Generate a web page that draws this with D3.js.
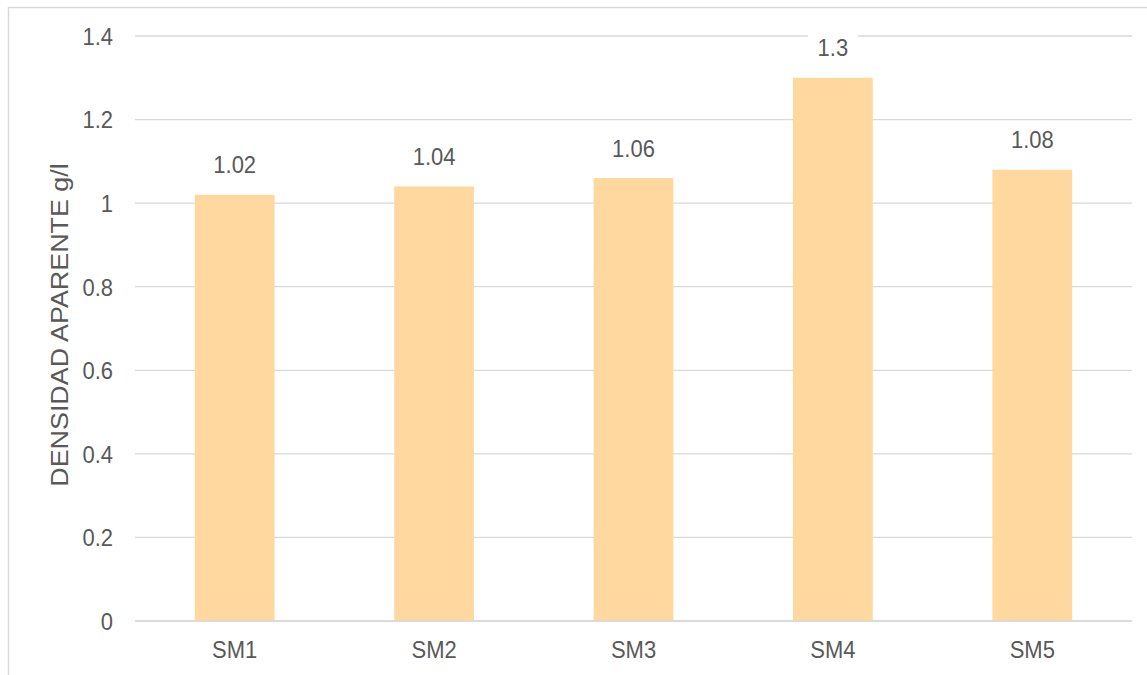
<!DOCTYPE html>
<html><head><meta charset="utf-8">
<script src="https://cdn.jsdelivr.net/npm/d3@7"></script>
<style>body{margin:0;background:#fff;}svg{display:block;font-family:"Liberation Sans",Arial,sans-serif;}</style>
</head><body>
<svg id="c" width="1147" height="675"></svg>
<script>
const categories = ["SM1","SM2","SM3","SM4","SM5"];
const values = [1.02,1.04,1.06,1.3,1.08];
const yTicks = [0,0.2,0.4,0.6,0.8,1,1.2,1.4];
const yTitle = "DENSIDAD APARENTE g/l";

const FS = 22, SY = 1.12, COL = "#595959";
const svg = d3.select("#c");
svg.append("rect").attr("x",8.5).attr("y",7.5).attr("width",1160).attr("height",700)
  .attr("fill","#fff").attr("stroke","#d9d9d9").attr("stroke-width",1.5);

const x = d3.scaleBand().domain(categories).range([135,1132]).paddingInner(0.6).paddingOuter(0.3);
const y = d3.scaleLinear().domain([0,1.4]).range([621,36]);

const g = svg.append("g");
g.selectAll("line.grid").data(yTicks).join("line")
  .attr("x1",135).attr("x2",1132).attr("y1",d=>y(d)).attr("y2",d=>y(d))
  .attr("stroke","#d9d9d9").attr("stroke-width",1.3);

g.selectAll("text.yt").data(yTicks).join("text")
  .attr("transform",d=>`translate(113,${y(d)}) scale(1,${SY})`)
  .attr("dy","0.36em").attr("text-anchor","end")
  .attr("font-size",FS).attr("fill",COL).text(d=>d3.format("")(d));

g.selectAll("rect.bar").data(values).join("rect")
  .attr("x",(d,i)=>x(categories[i])).attr("width",x.bandwidth())
  .attr("y",d=>y(d)).attr("height",d=>y(0)-y(d)).attr("fill","#FFD89F");

g.append("line").attr("x1",135).attr("x2",1132).attr("y1",y(0)).attr("y2",y(0))
  .attr("stroke","#d9d9d9").attr("stroke-width",1.5);

const lbl = g.selectAll("g.lbl").data(values).join("g")
  .attr("transform",(d,i)=>`translate(${x(categories[i])+x.bandwidth()/2},${y(d)-21.5})`);
lbl.append("rect").attr("x",-25).attr("y",-22).attr("width",50).attr("height",28).attr("fill","#fff");
lbl.append("text").attr("transform",`scale(1,${SY})`).attr("text-anchor","middle")
  .attr("font-size",FS).attr("fill",COL).text(d=>String(d));

g.selectAll("text.xt").data(categories).join("text")
  .attr("transform",d=>`translate(${x(d)+x.bandwidth()/2},657.5) scale(1,${SY})`)
  .attr("text-anchor","middle")
  .attr("font-size",FS).attr("fill",COL).text(d=>d);

g.append("text").attr("transform",`translate(68,325) rotate(-90) scale(${SY},1)`).attr("text-anchor","middle")
  .attr("font-size",24).attr("fill",COL).text(yTitle);
</script>
</body></html>
